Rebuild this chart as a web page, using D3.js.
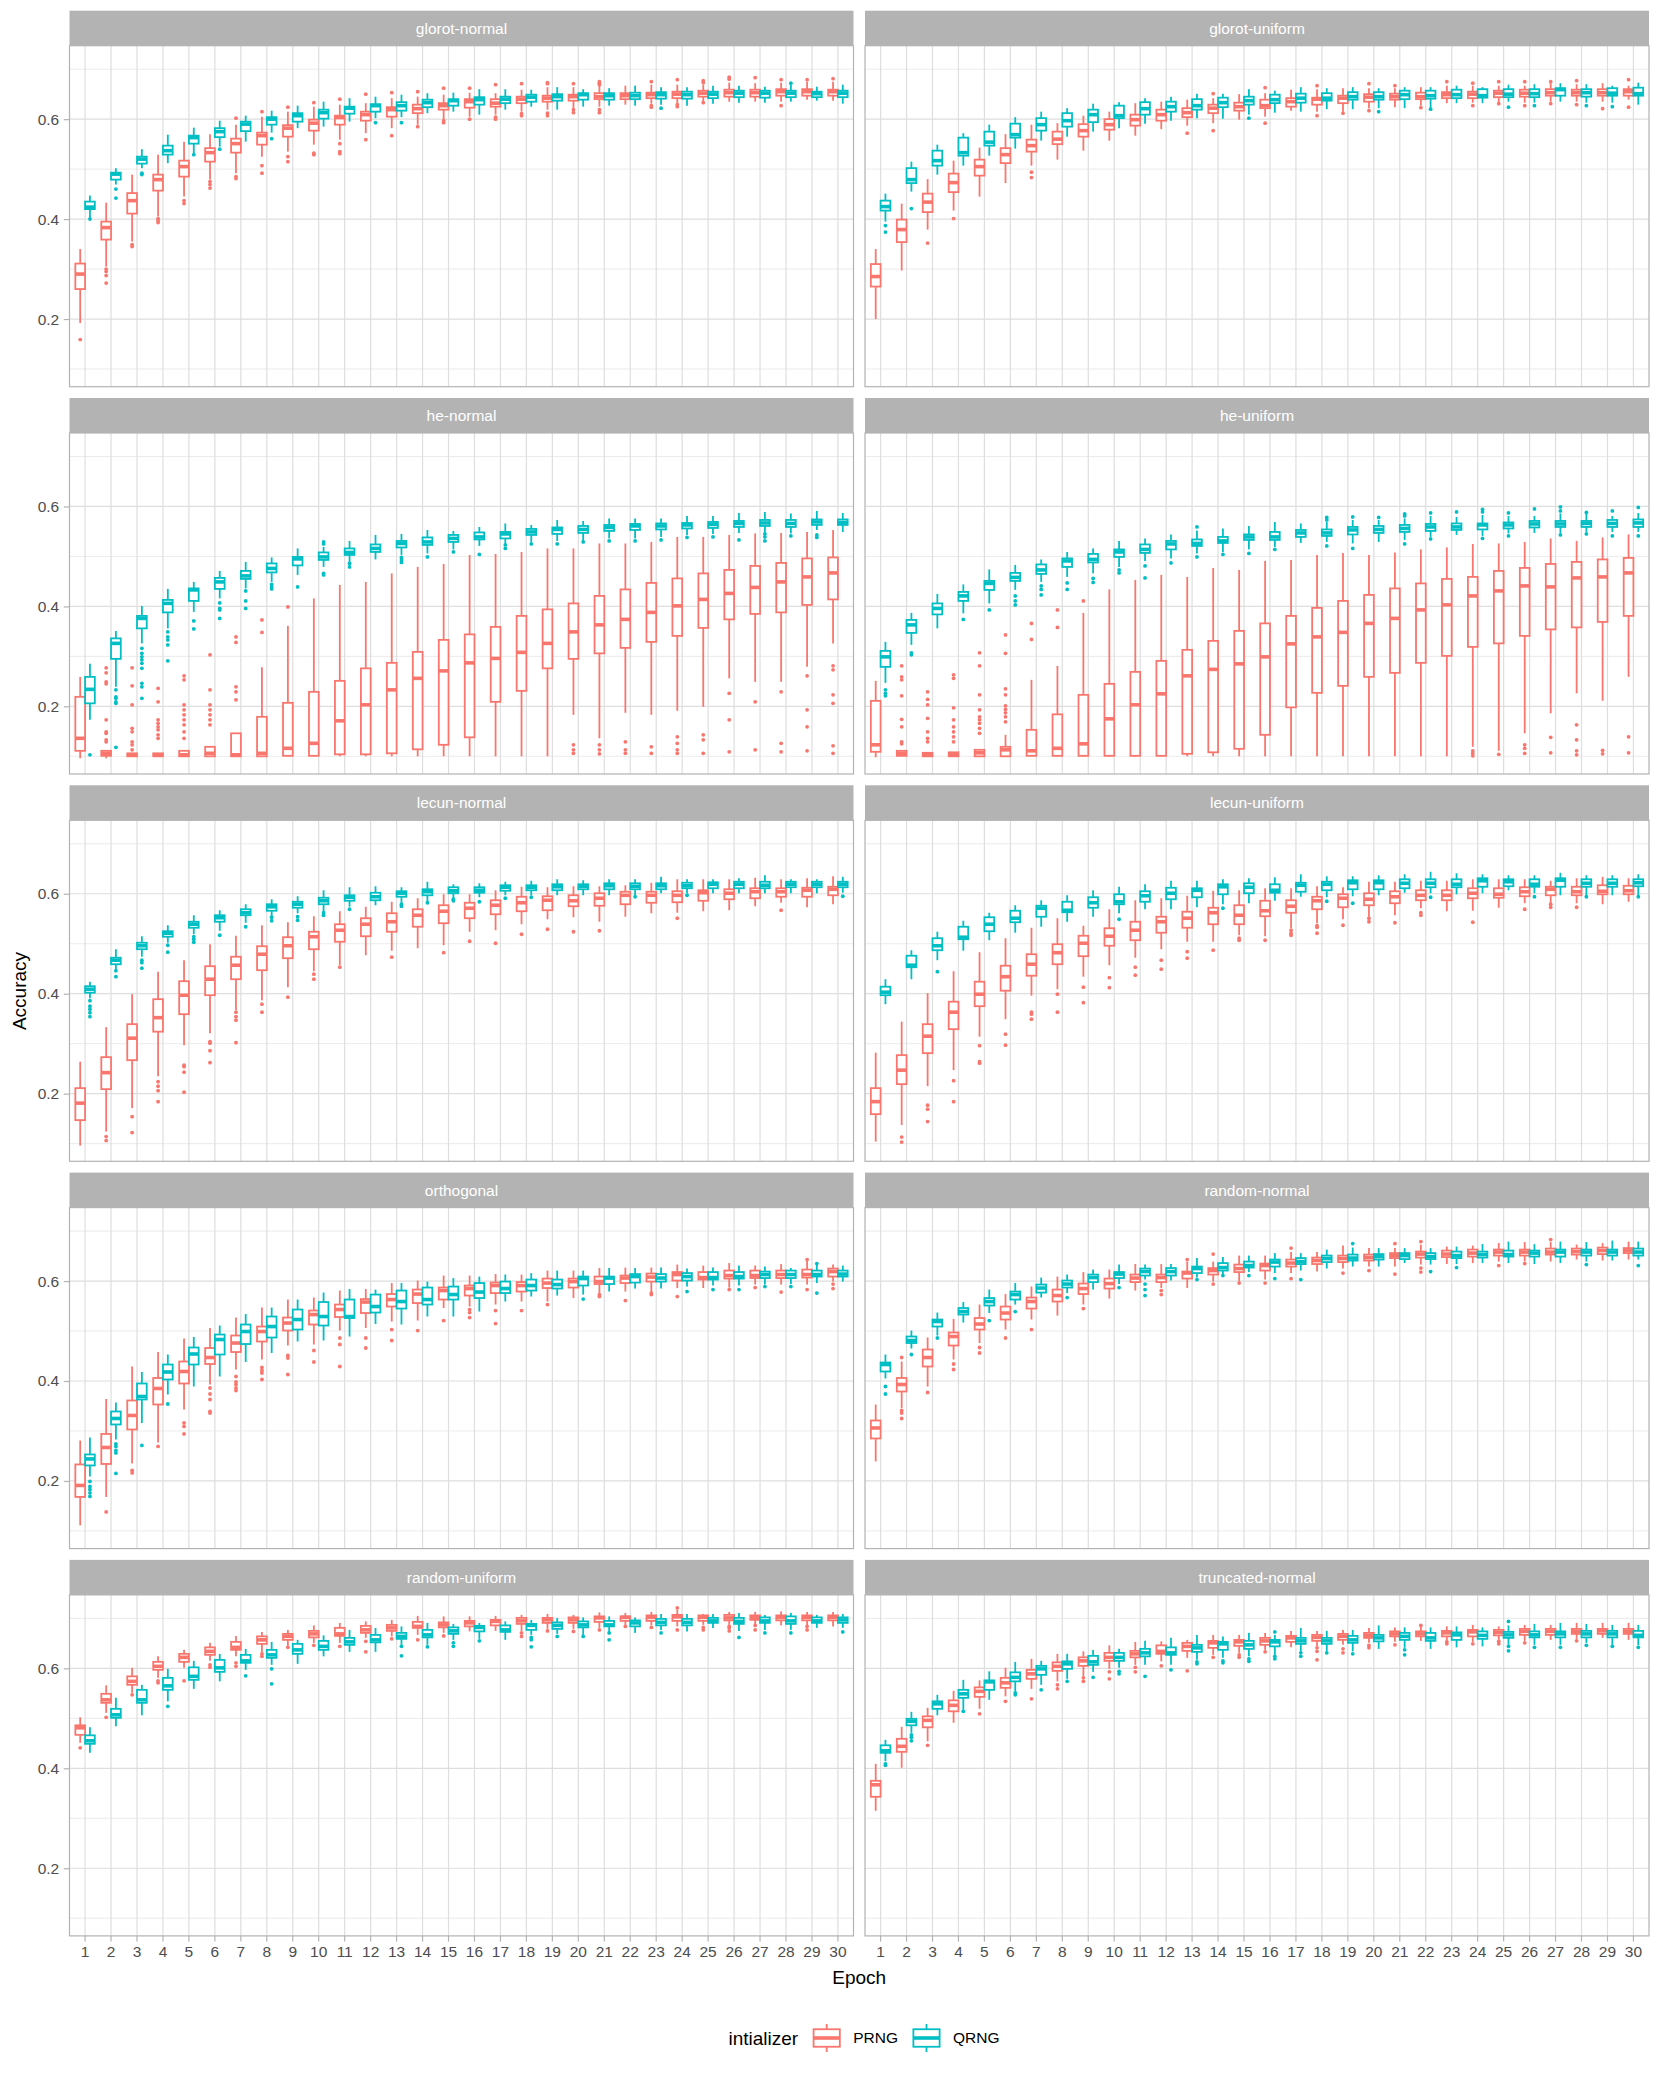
<!DOCTYPE html>
<html lang="en">
<head>
<meta charset="UTF-8">
<title>accuracy by epoch</title>
<script src="https://cdn.jsdelivr.net/npm/d3@7/dist/d3.min.js"></script>
<style>
  body { margin: 0; background: #fff; }
  text { font-family: "Liberation Sans", Arial, Helvetica, sans-serif; }
</style>
</head>
<body>
<script>
// categories / ticks
const facetNames = ["glorot-normal", "glorot-uniform", "he-normal", "he-uniform", "lecun-normal",
  "lecun-uniform", "orthogonal", "random-normal", "random-uniform", "truncated-normal"];
const epochs = [1,2,3,4,5,6,7,8,9,10,11,12,13,14,15,16,17,18,19,20,21,22,23,24,25,26,27,28,29,30];
const seriesNames = ["PRNG", "QRNG"];
const yTicks = [0.2, 0.4, 0.6];
const yMinorTicks = [0.1, 0.3, 0.5, 0.7];

// each box: [lower whisker, q1, median, q3, upper whisker], epochs 1..30
const glorotNormalPRNG = [[0.192,0.26,0.29,0.311,0.34],[0.305,0.359,0.383,0.395,0.433],[0.355,0.411,0.437,0.452,0.489],[0.405,0.457,0.479,0.489,0.529],[0.445,0.485,0.505,0.517,0.555],[0.479,0.515,0.533,0.542,0.57],[0.492,0.533,0.551,0.561,0.589],[0.525,0.549,0.567,0.573,0.605],[0.535,0.565,0.582,0.588,0.615],[0.549,0.577,0.592,0.599,0.625],[0.559,0.589,0.603,0.607,0.629],[0.572,0.597,0.609,0.615,0.632],[0.582,0.605,0.619,0.624,0.642],[0.589,0.612,0.621,0.629,0.645],[0.599,0.619,0.627,0.632,0.649],[0.605,0.623,0.635,0.64,0.653],[0.609,0.625,0.632,0.64,0.652],[0.615,0.632,0.64,0.645,0.659],[0.619,0.635,0.642,0.647,0.664],[0.622,0.637,0.645,0.649,0.664],[0.625,0.64,0.645,0.652,0.667],[0.629,0.64,0.647,0.652,0.667],[0.631,0.642,0.649,0.653,0.669],[0.631,0.642,0.65,0.655,0.669],[0.635,0.645,0.652,0.657,0.669],[0.635,0.645,0.653,0.659,0.673],[0.635,0.645,0.653,0.659,0.672],[0.635,0.647,0.655,0.66,0.673],[0.639,0.647,0.655,0.66,0.675],[0.637,0.647,0.655,0.659,0.675]];
const glorotNormalQRNG = [[0.402,0.42,0.424,0.435,0.447],[0.469,0.479,0.49,0.493,0.502],[0.502,0.511,0.52,0.525,0.54],[0.512,0.529,0.537,0.547,0.569],[0.531,0.551,0.563,0.567,0.583],[0.545,0.564,0.575,0.582,0.597],[0.555,0.576,0.59,0.595,0.607],[0.573,0.589,0.6,0.604,0.617],[0.582,0.595,0.607,0.612,0.627],[0.585,0.601,0.613,0.619,0.635],[0.595,0.611,0.622,0.625,0.642],[0.602,0.615,0.627,0.63,0.645],[0.604,0.617,0.627,0.634,0.649],[0.612,0.624,0.633,0.639,0.652],[0.615,0.627,0.637,0.64,0.653],[0.609,0.629,0.639,0.644,0.66],[0.619,0.632,0.64,0.645,0.66],[0.625,0.635,0.644,0.649,0.659],[0.619,0.637,0.645,0.65,0.664],[0.625,0.639,0.649,0.652,0.66],[0.627,0.639,0.647,0.652,0.662],[0.627,0.64,0.647,0.653,0.667],[0.629,0.641,0.649,0.654,0.664],[0.627,0.641,0.649,0.655,0.664],[0.631,0.642,0.65,0.655,0.667],[0.633,0.644,0.652,0.657,0.667],[0.633,0.643,0.652,0.657,0.665],[0.635,0.644,0.652,0.657,0.669],[0.637,0.644,0.651,0.655,0.665],[0.631,0.644,0.652,0.657,0.669]];
const glorotUniformPRNG = [[0.2,0.265,0.285,0.31,0.34],[0.297,0.354,0.379,0.399,0.431],[0.379,0.414,0.434,0.451,0.48],[0.417,0.454,0.473,0.491,0.517],[0.445,0.487,0.505,0.519,0.543],[0.472,0.512,0.529,0.542,0.57],[0.507,0.535,0.547,0.559,0.589],[0.519,0.55,0.56,0.575,0.592],[0.537,0.565,0.577,0.59,0.607],[0.557,0.579,0.589,0.6,0.615],[0.567,0.587,0.599,0.609,0.632],[0.58,0.597,0.609,0.619,0.635],[0.587,0.604,0.613,0.622,0.639],[0.592,0.612,0.622,0.629,0.642],[0.599,0.617,0.625,0.633,0.65],[0.605,0.622,0.627,0.639,0.652],[0.617,0.625,0.635,0.642,0.659],[0.615,0.629,0.64,0.643,0.66],[0.615,0.632,0.642,0.647,0.662],[0.622,0.635,0.644,0.65,0.662],[0.624,0.639,0.645,0.651,0.662],[0.627,0.64,0.645,0.653,0.664],[0.632,0.642,0.649,0.654,0.667],[0.633,0.642,0.65,0.655,0.667],[0.633,0.644,0.652,0.657,0.667],[0.633,0.645,0.652,0.659,0.667],[0.635,0.647,0.653,0.66,0.672],[0.635,0.647,0.653,0.659,0.67],[0.635,0.647,0.653,0.66,0.672],[0.639,0.647,0.655,0.66,0.667]];
const glorotUniformQRNG = [[0.395,0.417,0.425,0.437,0.451],[0.455,0.472,0.479,0.502,0.515],[0.489,0.507,0.517,0.537,0.549],[0.507,0.527,0.533,0.563,0.572],[0.527,0.547,0.554,0.575,0.589],[0.541,0.563,0.569,0.591,0.604],[0.557,0.577,0.589,0.602,0.615],[0.565,0.585,0.597,0.612,0.622],[0.575,0.594,0.609,0.619,0.631],[0.582,0.602,0.607,0.627,0.634],[0.591,0.609,0.621,0.634,0.642],[0.597,0.615,0.625,0.635,0.645],[0.602,0.619,0.627,0.64,0.651],[0.601,0.624,0.633,0.643,0.651],[0.609,0.629,0.637,0.645,0.66],[0.613,0.632,0.639,0.649,0.657],[0.615,0.633,0.642,0.651,0.664],[0.62,0.637,0.642,0.652,0.662],[0.62,0.639,0.645,0.654,0.664],[0.622,0.639,0.645,0.654,0.662],[0.622,0.64,0.649,0.657,0.664],[0.622,0.641,0.647,0.657,0.664],[0.632,0.642,0.649,0.659,0.667],[0.632,0.643,0.647,0.66,0.664],[0.635,0.644,0.65,0.66,0.669],[0.633,0.644,0.651,0.66,0.67],[0.635,0.647,0.659,0.662,0.672],[0.633,0.645,0.653,0.66,0.67],[0.633,0.647,0.652,0.662,0.667],[0.629,0.647,0.651,0.663,0.673]];
const heNormalPRNG = [[0.096,0.111,0.136,0.219,0.259],[0.096,0.101,0.106,0.111,0.111],[0.1,0.1,0.103,0.106,0.106],[0.1,0.1,0.103,0.106,0.106],[0.1,0.1,0.103,0.111,0.111],[0.1,0.1,0.106,0.119,0.119],[0.1,0.1,0.103,0.146,0.146],[0.1,0.1,0.106,0.179,0.278],[0.1,0.101,0.116,0.207,0.361],[0.1,0.101,0.126,0.229,0.416],[0.1,0.104,0.171,0.251,0.443],[0.1,0.104,0.203,0.276,0.449],[0.1,0.106,0.233,0.287,0.466],[0.1,0.114,0.256,0.309,0.479],[0.1,0.123,0.271,0.333,0.485],[0.1,0.138,0.287,0.344,0.503],[0.1,0.209,0.296,0.359,0.505],[0.1,0.231,0.308,0.381,0.509],[0.1,0.276,0.326,0.394,0.516],[0.183,0.295,0.349,0.406,0.516],[0.136,0.306,0.363,0.421,0.526],[0.187,0.317,0.374,0.434,0.526],[0.183,0.329,0.388,0.447,0.529],[0.191,0.341,0.401,0.456,0.539],[0.199,0.357,0.414,0.466,0.539],[0.256,0.374,0.426,0.473,0.543],[0.249,0.385,0.438,0.481,0.546],[0.249,0.388,0.449,0.487,0.547],[0.279,0.403,0.459,0.496,0.549],[0.326,0.414,0.467,0.498,0.553]];
const heNormalQRNG = [[0.173,0.206,0.234,0.259,0.285],[0.239,0.295,0.326,0.336,0.351],[0.326,0.356,0.376,0.381,0.401],[0.356,0.388,0.406,0.413,0.435],[0.389,0.411,0.433,0.436,0.449],[0.416,0.435,0.449,0.457,0.471],[0.436,0.455,0.461,0.471,0.489],[0.449,0.468,0.476,0.486,0.498],[0.463,0.482,0.495,0.499,0.516],[0.479,0.493,0.499,0.508,0.519],[0.487,0.503,0.508,0.516,0.531],[0.494,0.509,0.516,0.524,0.543],[0.503,0.518,0.526,0.531,0.545],[0.506,0.523,0.529,0.538,0.553],[0.514,0.529,0.536,0.543,0.551],[0.521,0.534,0.539,0.548,0.559],[0.526,0.536,0.545,0.549,0.566],[0.529,0.543,0.549,0.555,0.563],[0.531,0.545,0.554,0.558,0.573],[0.531,0.547,0.554,0.561,0.571],[0.536,0.551,0.558,0.563,0.576],[0.536,0.553,0.561,0.565,0.576],[0.539,0.554,0.561,0.566,0.576],[0.543,0.556,0.563,0.567,0.581],[0.545,0.557,0.564,0.569,0.581],[0.547,0.559,0.566,0.571,0.587],[0.547,0.561,0.567,0.573,0.589],[0.546,0.559,0.566,0.573,0.586],[0.553,0.563,0.569,0.574,0.591],[0.549,0.563,0.568,0.574,0.587]];
const heUniformPRNG = [[0.098,0.109,0.123,0.211,0.251],[0.1,0.101,0.106,0.111,0.111],[0.1,0.1,0.103,0.107,0.107],[0.1,0.1,0.103,0.108,0.108],[0.1,0.1,0.107,0.113,0.113],[0.1,0.1,0.113,0.119,0.143],[0.1,0.101,0.111,0.153,0.253],[0.1,0.101,0.116,0.184,0.281],[0.1,0.101,0.125,0.223,0.387],[0.1,0.101,0.175,0.245,0.434],[0.1,0.101,0.203,0.269,0.453],[0.1,0.101,0.225,0.291,0.463],[0.1,0.105,0.261,0.313,0.459],[0.1,0.108,0.274,0.331,0.477],[0.1,0.115,0.285,0.351,0.473],[0.1,0.143,0.299,0.366,0.491],[0.1,0.198,0.325,0.381,0.493],[0.1,0.227,0.339,0.397,0.503],[0.1,0.241,0.348,0.411,0.507],[0.1,0.259,0.366,0.423,0.503],[0.1,0.267,0.376,0.436,0.508],[0.1,0.287,0.393,0.446,0.514],[0.1,0.301,0.403,0.455,0.518],[0.119,0.319,0.421,0.459,0.525],[0.111,0.326,0.431,0.471,0.526],[0.146,0.341,0.441,0.477,0.529],[0.186,0.354,0.439,0.485,0.536],[0.226,0.358,0.457,0.489,0.531],[0.211,0.369,0.459,0.494,0.538],[0.259,0.381,0.467,0.497,0.544]];
const heUniformQRNG = [[0.247,0.279,0.299,0.311,0.329],[0.323,0.347,0.363,0.373,0.387],[0.356,0.384,0.396,0.406,0.425],[0.386,0.411,0.421,0.429,0.444],[0.406,0.433,0.446,0.451,0.474],[0.433,0.451,0.458,0.467,0.483],[0.449,0.465,0.473,0.484,0.494],[0.459,0.479,0.491,0.496,0.509],[0.466,0.488,0.494,0.505,0.516],[0.479,0.499,0.509,0.514,0.531],[0.491,0.507,0.514,0.524,0.536],[0.496,0.514,0.525,0.531,0.544],[0.506,0.521,0.526,0.534,0.552],[0.509,0.527,0.531,0.539,0.556],[0.514,0.533,0.539,0.544,0.561],[0.519,0.533,0.539,0.549,0.569],[0.527,0.539,0.547,0.553,0.566],[0.529,0.541,0.547,0.554,0.569],[0.526,0.544,0.553,0.559,0.573],[0.529,0.547,0.554,0.561,0.573],[0.533,0.549,0.556,0.563,0.576],[0.539,0.551,0.559,0.565,0.581],[0.543,0.553,0.559,0.566,0.579],[0.541,0.554,0.563,0.566,0.583],[0.546,0.556,0.563,0.568,0.581],[0.547,0.558,0.565,0.571,0.581],[0.547,0.559,0.565,0.571,0.586],[0.549,0.559,0.566,0.571,0.585],[0.549,0.559,0.566,0.573,0.581],[0.549,0.559,0.567,0.574,0.587]];
const lecunNormalPRNG = [[0.096,0.147,0.181,0.211,0.264],[0.124,0.209,0.242,0.273,0.333],[0.171,0.267,0.311,0.339,0.399],[0.235,0.324,0.352,0.389,0.444],[0.297,0.359,0.397,0.425,0.467],[0.321,0.397,0.429,0.455,0.499],[0.367,0.429,0.457,0.474,0.516],[0.387,0.447,0.479,0.495,0.537],[0.413,0.471,0.496,0.513,0.543],[0.445,0.489,0.514,0.524,0.555],[0.457,0.504,0.527,0.539,0.565],[0.477,0.515,0.539,0.551,0.574],[0.486,0.524,0.544,0.561,0.584],[0.491,0.534,0.557,0.569,0.591],[0.497,0.541,0.565,0.577,0.599],[0.524,0.551,0.571,0.582,0.599],[0.527,0.559,0.577,0.587,0.607],[0.539,0.565,0.582,0.594,0.614],[0.549,0.567,0.587,0.595,0.613],[0.553,0.575,0.586,0.597,0.615],[0.544,0.576,0.591,0.601,0.615],[0.554,0.579,0.597,0.604,0.617],[0.561,0.582,0.597,0.604,0.622],[0.562,0.583,0.597,0.605,0.629],[0.565,0.586,0.602,0.607,0.629],[0.567,0.589,0.601,0.609,0.629],[0.575,0.591,0.604,0.611,0.632],[0.582,0.594,0.604,0.611,0.629],[0.573,0.594,0.607,0.612,0.631],[0.579,0.597,0.609,0.614,0.635]];
const lecunNormalQRNG = [[0.391,0.402,0.409,0.415,0.424],[0.449,0.459,0.467,0.472,0.489],[0.474,0.489,0.496,0.502,0.515],[0.502,0.514,0.521,0.525,0.537],[0.519,0.532,0.539,0.544,0.557],[0.526,0.544,0.552,0.557,0.567],[0.542,0.557,0.562,0.569,0.579],[0.554,0.566,0.574,0.579,0.589],[0.561,0.572,0.579,0.584,0.595],[0.564,0.579,0.586,0.592,0.607],[0.574,0.586,0.593,0.597,0.613],[0.577,0.587,0.594,0.602,0.615],[0.582,0.594,0.601,0.605,0.613],[0.584,0.597,0.604,0.609,0.624],[0.591,0.601,0.606,0.613,0.619],[0.593,0.602,0.607,0.613,0.621],[0.597,0.606,0.613,0.617,0.624],[0.597,0.607,0.613,0.617,0.626],[0.597,0.607,0.614,0.619,0.629],[0.597,0.609,0.615,0.619,0.627],[0.597,0.609,0.616,0.621,0.629],[0.597,0.609,0.615,0.621,0.629],[0.601,0.609,0.616,0.621,0.634],[0.601,0.611,0.616,0.622,0.629],[0.601,0.611,0.619,0.623,0.629],[0.601,0.611,0.619,0.624,0.631],[0.601,0.611,0.617,0.624,0.637],[0.601,0.613,0.619,0.624,0.629],[0.601,0.613,0.619,0.624,0.629],[0.602,0.613,0.619,0.624,0.634]];
const lecunUniformPRNG = [[0.104,0.159,0.184,0.211,0.282],[0.137,0.219,0.247,0.277,0.344],[0.215,0.281,0.315,0.339,0.401],[0.247,0.329,0.363,0.384,0.445],[0.314,0.375,0.399,0.424,0.483],[0.349,0.406,0.434,0.456,0.511],[0.396,0.436,0.459,0.479,0.532],[0.409,0.459,0.482,0.499,0.551],[0.434,0.475,0.501,0.516,0.536],[0.457,0.496,0.515,0.531,0.569],[0.472,0.507,0.527,0.544,0.587],[0.489,0.522,0.544,0.554,0.591],[0.504,0.532,0.551,0.564,0.596],[0.504,0.539,0.562,0.572,0.606],[0.517,0.539,0.557,0.577,0.607],[0.515,0.555,0.566,0.586,0.611],[0.531,0.562,0.575,0.587,0.611],[0.541,0.569,0.586,0.594,0.615],[0.549,0.573,0.591,0.599,0.613],[0.554,0.577,0.589,0.601,0.624],[0.557,0.581,0.594,0.605,0.624],[0.571,0.587,0.597,0.607,0.626],[0.565,0.587,0.597,0.607,0.626],[0.566,0.591,0.601,0.611,0.629],[0.572,0.592,0.599,0.611,0.629],[0.581,0.595,0.604,0.613,0.629],[0.581,0.597,0.609,0.614,0.626],[0.581,0.597,0.604,0.614,0.631],[0.579,0.599,0.605,0.617,0.634],[0.584,0.599,0.606,0.616,0.631]];
const lecunUniformQRNG = [[0.379,0.397,0.403,0.414,0.429],[0.429,0.453,0.457,0.476,0.487],[0.467,0.487,0.496,0.511,0.524],[0.486,0.509,0.513,0.534,0.546],[0.507,0.525,0.539,0.553,0.562],[0.522,0.543,0.551,0.566,0.577],[0.534,0.554,0.571,0.576,0.587],[0.544,0.563,0.567,0.584,0.597],[0.554,0.572,0.582,0.593,0.607],[0.561,0.579,0.584,0.599,0.614],[0.569,0.584,0.596,0.605,0.619],[0.569,0.589,0.601,0.612,0.626],[0.573,0.593,0.607,0.611,0.626],[0.579,0.599,0.614,0.619,0.629],[0.581,0.601,0.613,0.621,0.631],[0.586,0.602,0.607,0.619,0.633],[0.594,0.604,0.617,0.622,0.639],[0.593,0.607,0.619,0.624,0.635],[0.595,0.609,0.622,0.627,0.635],[0.597,0.609,0.622,0.627,0.637],[0.602,0.611,0.621,0.629,0.639],[0.601,0.613,0.621,0.629,0.644],[0.599,0.613,0.619,0.629,0.641],[0.601,0.614,0.626,0.631,0.639],[0.607,0.615,0.624,0.629,0.637],[0.601,0.614,0.619,0.629,0.637],[0.597,0.614,0.627,0.631,0.642],[0.597,0.614,0.621,0.629,0.637],[0.597,0.614,0.621,0.629,0.637],[0.597,0.615,0.622,0.629,0.639]];
const orthogonalPRNG = [[0.111,0.168,0.191,0.233,0.281],[0.168,0.234,0.267,0.294,0.364],[0.235,0.303,0.331,0.361,0.429],[0.277,0.353,0.385,0.406,0.458],[0.343,0.395,0.419,0.439,0.485],[0.393,0.434,0.447,0.466,0.506],[0.423,0.458,0.476,0.491,0.527],[0.443,0.479,0.499,0.509,0.547],[0.471,0.501,0.516,0.527,0.563],[0.473,0.513,0.533,0.541,0.567],[0.501,0.528,0.543,0.553,0.581],[0.506,0.536,0.558,0.564,0.584],[0.519,0.549,0.563,0.574,0.596],[0.521,0.556,0.574,0.583,0.601],[0.546,0.563,0.581,0.587,0.611],[0.549,0.571,0.585,0.591,0.611],[0.553,0.576,0.591,0.597,0.614],[0.559,0.579,0.591,0.598,0.613],[0.559,0.586,0.596,0.605,0.621],[0.566,0.587,0.599,0.605,0.621],[0.576,0.594,0.599,0.609,0.626],[0.579,0.596,0.606,0.611,0.627],[0.578,0.599,0.608,0.615,0.627],[0.586,0.601,0.613,0.618,0.633],[0.586,0.603,0.607,0.618,0.631],[0.587,0.605,0.611,0.621,0.636],[0.593,0.606,0.611,0.621,0.631],[0.593,0.606,0.613,0.621,0.634],[0.593,0.607,0.613,0.623,0.641],[0.599,0.609,0.619,0.625,0.633]];
const orthogonalQRNG = [[0.209,0.231,0.244,0.253,0.287],[0.283,0.313,0.325,0.339,0.357],[0.316,0.363,0.369,0.395,0.418],[0.373,0.403,0.418,0.433,0.453],[0.389,0.433,0.454,0.467,0.488],[0.409,0.453,0.483,0.493,0.511],[0.438,0.474,0.499,0.513,0.534],[0.456,0.487,0.509,0.529,0.547],[0.479,0.503,0.523,0.543,0.563],[0.481,0.511,0.529,0.558,0.577],[0.489,0.526,0.529,0.563,0.584],[0.514,0.537,0.549,0.573,0.583],[0.513,0.545,0.559,0.581,0.596],[0.529,0.553,0.563,0.587,0.599],[0.529,0.563,0.573,0.589,0.606],[0.539,0.566,0.578,0.596,0.609],[0.559,0.576,0.585,0.599,0.613],[0.569,0.581,0.591,0.603,0.616],[0.571,0.585,0.593,0.603,0.621],[0.573,0.591,0.605,0.609,0.621],[0.579,0.594,0.606,0.609,0.626],[0.585,0.597,0.609,0.614,0.626],[0.585,0.599,0.606,0.614,0.627],[0.589,0.601,0.609,0.616,0.625],[0.591,0.603,0.607,0.618,0.627],[0.591,0.605,0.609,0.618,0.631],[0.593,0.606,0.613,0.619,0.629],[0.594,0.606,0.613,0.621,0.626],[0.596,0.609,0.613,0.621,0.633],[0.599,0.609,0.614,0.621,0.631]];
const randomNormalPRNG = [[0.239,0.285,0.306,0.321,0.353],[0.346,0.379,0.393,0.406,0.439],[0.389,0.429,0.447,0.463,0.487],[0.443,0.471,0.489,0.497,0.524],[0.476,0.503,0.514,0.526,0.553],[0.503,0.523,0.536,0.549,0.574],[0.523,0.545,0.559,0.567,0.589],[0.531,0.559,0.571,0.583,0.609],[0.553,0.574,0.585,0.595,0.618],[0.565,0.585,0.595,0.605,0.623],[0.581,0.598,0.606,0.613,0.634],[0.586,0.598,0.607,0.613,0.634],[0.586,0.605,0.616,0.619,0.639],[0.599,0.613,0.621,0.626,0.639],[0.599,0.618,0.625,0.633,0.651],[0.603,0.621,0.631,0.635,0.651],[0.616,0.629,0.636,0.643,0.658],[0.619,0.634,0.641,0.647,0.658],[0.625,0.638,0.645,0.651,0.671],[0.629,0.641,0.647,0.653,0.666],[0.629,0.646,0.651,0.656,0.666],[0.633,0.647,0.654,0.659,0.673],[0.634,0.648,0.654,0.661,0.669],[0.636,0.649,0.656,0.663,0.671],[0.639,0.651,0.658,0.663,0.676],[0.639,0.651,0.658,0.663,0.678],[0.639,0.653,0.658,0.665,0.678],[0.643,0.653,0.659,0.665,0.673],[0.641,0.654,0.661,0.667,0.676],[0.643,0.656,0.661,0.666,0.679]];
const randomNormalQRNG = [[0.405,0.419,0.433,0.437,0.453],[0.465,0.476,0.481,0.489,0.501],[0.491,0.509,0.519,0.523,0.537],[0.517,0.533,0.539,0.546,0.558],[0.536,0.551,0.559,0.566,0.583],[0.553,0.563,0.573,0.579,0.596],[0.567,0.577,0.586,0.593,0.607],[0.576,0.587,0.594,0.601,0.613],[0.583,0.598,0.607,0.613,0.623],[0.594,0.606,0.614,0.618,0.633],[0.603,0.611,0.619,0.625,0.633],[0.601,0.611,0.619,0.626,0.634],[0.607,0.616,0.625,0.629,0.646],[0.609,0.621,0.627,0.636,0.648],[0.618,0.627,0.631,0.639,0.651],[0.616,0.629,0.638,0.643,0.656],[0.621,0.634,0.639,0.646,0.656],[0.625,0.638,0.645,0.651,0.663],[0.629,0.641,0.646,0.653,0.667],[0.629,0.643,0.649,0.654,0.666],[0.636,0.644,0.651,0.656,0.666],[0.633,0.644,0.649,0.656,0.666],[0.634,0.646,0.651,0.659,0.669],[0.636,0.647,0.653,0.659,0.674],[0.636,0.649,0.653,0.661,0.679],[0.634,0.649,0.656,0.661,0.674],[0.636,0.649,0.658,0.663,0.679],[0.639,0.651,0.658,0.663,0.678],[0.641,0.651,0.658,0.663,0.681],[0.643,0.651,0.658,0.665,0.679]];
const randomUniformPRNG = [[0.451,0.467,0.481,0.486,0.502],[0.511,0.531,0.537,0.549,0.566],[0.551,0.567,0.574,0.584,0.601],[0.581,0.597,0.604,0.613,0.624],[0.601,0.613,0.622,0.629,0.637],[0.615,0.627,0.634,0.642,0.651],[0.624,0.637,0.642,0.653,0.665],[0.631,0.649,0.657,0.664,0.673],[0.644,0.657,0.664,0.669,0.677],[0.651,0.662,0.669,0.675,0.686],[0.651,0.665,0.669,0.681,0.691],[0.661,0.671,0.677,0.685,0.694],[0.664,0.675,0.681,0.687,0.697],[0.667,0.681,0.684,0.693,0.705],[0.671,0.682,0.687,0.692,0.704],[0.674,0.684,0.691,0.695,0.704],[0.675,0.686,0.694,0.697,0.705],[0.675,0.689,0.695,0.701,0.707],[0.679,0.691,0.697,0.701,0.709],[0.679,0.691,0.697,0.702,0.707],[0.681,0.693,0.701,0.704,0.712],[0.686,0.695,0.702,0.704,0.711],[0.686,0.695,0.702,0.706,0.713],[0.684,0.695,0.703,0.707,0.717],[0.687,0.695,0.702,0.706,0.709],[0.687,0.696,0.701,0.707,0.713],[0.687,0.697,0.702,0.706,0.713],[0.686,0.696,0.702,0.706,0.714],[0.687,0.696,0.702,0.706,0.713],[0.684,0.696,0.702,0.706,0.713]];
const randomUniformQRNG = [[0.431,0.449,0.455,0.466,0.482],[0.484,0.501,0.507,0.519,0.541],[0.506,0.531,0.537,0.557,0.567],[0.534,0.557,0.565,0.581,0.599],[0.559,0.577,0.584,0.602,0.615],[0.574,0.593,0.601,0.617,0.629],[0.597,0.611,0.615,0.627,0.639],[0.607,0.621,0.627,0.637,0.653],[0.609,0.629,0.637,0.649,0.657],[0.624,0.637,0.644,0.655,0.666],[0.633,0.647,0.653,0.661,0.677],[0.633,0.652,0.657,0.667,0.681],[0.647,0.659,0.664,0.671,0.684],[0.647,0.662,0.667,0.677,0.691],[0.657,0.669,0.675,0.682,0.689],[0.659,0.674,0.682,0.685,0.691],[0.657,0.673,0.677,0.686,0.694],[0.667,0.677,0.686,0.689,0.697],[0.669,0.679,0.686,0.692,0.701],[0.667,0.682,0.687,0.694,0.702],[0.673,0.684,0.687,0.695,0.704],[0.671,0.684,0.691,0.696,0.702],[0.677,0.686,0.692,0.699,0.709],[0.674,0.686,0.692,0.699,0.709],[0.681,0.691,0.695,0.701,0.709],[0.675,0.689,0.694,0.701,0.711],[0.677,0.691,0.695,0.702,0.707],[0.677,0.689,0.695,0.704,0.711],[0.681,0.691,0.695,0.702,0.707],[0.681,0.691,0.697,0.702,0.709]];
const truncatedNormalPRNG = [[0.315,0.343,0.367,0.375,0.409],[0.401,0.433,0.444,0.459,0.483],[0.454,0.482,0.496,0.504,0.521],[0.491,0.514,0.526,0.536,0.555],[0.519,0.543,0.554,0.562,0.576],[0.544,0.561,0.571,0.581,0.601],[0.559,0.579,0.589,0.597,0.619],[0.574,0.595,0.604,0.612,0.629],[0.584,0.605,0.615,0.622,0.634],[0.599,0.615,0.622,0.631,0.646],[0.607,0.622,0.629,0.635,0.653],[0.614,0.629,0.634,0.646,0.654],[0.621,0.635,0.644,0.651,0.657],[0.627,0.641,0.651,0.655,0.667],[0.631,0.645,0.653,0.657,0.667],[0.637,0.647,0.655,0.661,0.671],[0.642,0.653,0.661,0.665,0.675],[0.644,0.655,0.662,0.667,0.675],[0.647,0.657,0.664,0.669,0.677],[0.651,0.661,0.666,0.671,0.681],[0.653,0.664,0.669,0.674,0.682],[0.655,0.664,0.669,0.674,0.683],[0.654,0.664,0.671,0.675,0.684],[0.653,0.664,0.673,0.677,0.687],[0.657,0.666,0.672,0.677,0.684],[0.655,0.667,0.674,0.679,0.687],[0.657,0.667,0.674,0.679,0.687],[0.659,0.669,0.674,0.679,0.691],[0.661,0.669,0.675,0.679,0.691],[0.657,0.669,0.674,0.679,0.691]];
const truncatedNormalQRNG = [[0.414,0.431,0.435,0.446,0.457],[0.471,0.486,0.494,0.499,0.513],[0.506,0.519,0.529,0.534,0.547],[0.517,0.541,0.549,0.557,0.577],[0.537,0.557,0.573,0.576,0.594],[0.554,0.574,0.582,0.592,0.613],[0.567,0.587,0.599,0.605,0.615],[0.579,0.599,0.609,0.614,0.629],[0.593,0.607,0.613,0.625,0.637],[0.601,0.615,0.622,0.631,0.639],[0.607,0.624,0.631,0.639,0.655],[0.607,0.627,0.631,0.642,0.661],[0.617,0.633,0.641,0.647,0.667],[0.621,0.637,0.649,0.653,0.664],[0.624,0.639,0.647,0.655,0.671],[0.627,0.644,0.653,0.657,0.667],[0.634,0.649,0.655,0.661,0.681],[0.634,0.649,0.655,0.661,0.675],[0.634,0.651,0.657,0.665,0.677],[0.639,0.654,0.661,0.667,0.686],[0.641,0.657,0.664,0.671,0.682],[0.639,0.655,0.661,0.671,0.682],[0.642,0.657,0.667,0.672,0.684],[0.644,0.659,0.666,0.674,0.682],[0.647,0.661,0.667,0.673,0.686],[0.647,0.662,0.667,0.674,0.689],[0.647,0.662,0.669,0.674,0.691],[0.651,0.662,0.669,0.675,0.689],[0.647,0.662,0.669,0.675,0.687],[0.646,0.662,0.666,0.675,0.687]];

// outliers: [epoch, value, value, ...]
const glorotNormalPRNGOut = [[1,0.159],[2,0.3,0.295,0.287,0.272],[3,0.349,0.345],[4,0.401,0.397,0.393],[5,0.437,0.431],[6,0.475,0.469,0.462],[7,0.602,0.485,0.481],[8,0.615,0.507,0.492],[9,0.624,0.525,0.515],[10,0.633,0.532,0.529],[11,0.64,0.551,0.535,0.531],[12,0.65,0.559],[13,0.653,0.567],[14,0.655,0.585],[15,0.662,0.597,0.593],[16,0.662,0.6],[17,0.669,0.604,0.6],[18,0.671,0.611,0.607],[19,0.673,0.671,0.612,0.607],[20,0.671,0.619,0.613],[21,0.675,0.672,0.669,0.619,0.613],[23,0.675,0.627,0.624],[24,0.679,0.629,0.625],[25,0.677,0.673,0.633],[26,0.684,0.68],[27,0.683],[28,0.679,0.627],[29,0.679],[30,0.681]];
const glorotNormalQRNGOut = [[1,0.4],[2,0.46,0.442],[3,0.492,0.489],[5,0.529],[6,0.54],[8,0.561],[12,0.593],[13,0.593],[23,0.622],[28,0.672]];
const glorotUniformPRNGOut = [[3,0.352],[4,0.401],[7,0.494,0.483],[13,0.572],[14,0.651,0.577],[16,0.663,0.592],[18,0.667,0.607],[19,0.612],[20,0.671,0.617],[21,0.667],[22,0.623],[23,0.675],[24,0.672,0.627],[25,0.675,0.631],[26,0.675,0.627],[27,0.675,0.631],[28,0.677,0.629],[29,0.621],[30,0.679,0.624]];
const glorotUniformQRNGOut = [[1,0.387,0.374],[2,0.421],[15,0.602],[20,0.615],[22,0.62],[25,0.624],[26,0.627],[28,0.627],[29,0.625]];
const heNormalPRNGOut = [[2,0.277,0.267,0.249,0.245,0.173,0.149,0.146,0.133,0.129],[3,0.277,0.241,0.203,0.156,0.149,0.129,0.123,0.113],[4,0.236,0.209,0.173,0.166,0.159,0.153,0.143,0.136],[5,0.261,0.253,0.203,0.193,0.183,0.173,0.163,0.149,0.136],[6,0.303,0.233,0.203,0.193,0.183,0.173,0.163],[7,0.339,0.328,0.239,0.229,0.213],[8,0.373,0.348],[9,0.399],[20,0.123,0.113,0.106],[21,0.123,0.113,0.105],[22,0.129,0.113,0.106],[23,0.119,0.106],[24,0.139,0.126,0.113,0.106],[25,0.143,0.133,0.106],[26,0.226,0.173,0.109],[27,0.209,0.113],[28,0.229,0.126,0.109],[29,0.261,0.193,0.159,0.111],[30,0.281,0.273,0.223,0.206,0.121,0.106]];
const heNormalQRNGOut = [[1,0.103],[2,0.233,0.219,0.216,0.209,0.206,0.118],[3,0.316,0.306,0.299,0.293,0.286,0.276,0.246,0.239,0.216],[4,0.349,0.339,0.333,0.323,0.291],[5,0.371,0.355],[6,0.407,0.396,0.393,0.376],[7,0.431,0.411,0.396],[8,0.444,0.439,0.435],[9,0.439],[10,0.529,0.525,0.466,0.463],[11,0.486,0.479],[13,0.498,0.493,0.488],[14,0.499],[15,0.509],[16,0.504],[17,0.523,0.516],[18,0.525],[19,0.525],[20,0.529],[21,0.531],[22,0.531],[23,0.533],[24,0.538],[25,0.539],[26,0.533],[27,0.545,0.539,0.531],[28,0.541],[29,0.543,0.538]];
const heUniformPRNGOut = [[2,0.281,0.259,0.253,0.221,0.174,0.159,0.129,0.125],[3,0.229,0.214,0.203,0.176,0.149,0.136,0.129],[4,0.263,0.256,0.197,0.173,0.159,0.149,0.139,0.129],[5,0.307,0.281,0.223,0.193,0.179,0.173,0.166,0.156,0.146],[6,0.343,0.306,0.235,0.223,0.201,0.194,0.187,0.179,0.169],[7,0.366,0.334],[8,0.393,0.358],[9,0.411],[24,0.111,0.106,0.101],[25,0.104],[26,0.123,0.116,0.106],[27,0.138,0.107],[28,0.163,0.133,0.111,0.103],[29,0.112,0.105],[30,0.139,0.107]];
const heUniformQRNGOut = [[1,0.233,0.226,0.221],[2,0.307,0.303],[4,0.374],[5,0.393],[6,0.421,0.411,0.403],[7,0.441,0.434,0.423],[8,0.447,0.434],[9,0.456,0.448],[10,0.473,0.467],[11,0.481,0.457],[12,0.487],[13,0.559,0.499],[14,0.504],[15,0.506],[16,0.514],[18,0.578,0.573,0.521],[19,0.579,0.516],[20,0.578],[21,0.585,0.581,0.525],[22,0.587,0.535],[23,0.589],[24,0.594,0.589,0.536],[25,0.587,0.541],[26,0.595],[27,0.599,0.591,0.543],[28,0.588,0.545],[29,0.591,0.541],[30,0.598,0.541]];
const lecunNormalPRNGOut = [[2,0.114,0.106],[3,0.154,0.122],[4,0.224,0.215,0.206,0.184],[5,0.257,0.254,0.243,0.203],[6,0.304,0.301,0.286,0.262],[7,0.363,0.354,0.347,0.302],[8,0.379,0.363],[9,0.393],[10,0.439,0.429],[11,0.453],[13,0.473],[15,0.482],[16,0.505],[17,0.501],[18,0.519],[19,0.529],[20,0.524],[21,0.526],[24,0.551],[28,0.567]];
const lecunNormalQRNGOut = [[1,0.386,0.375,0.369,0.362,0.354],[2,0.446,0.434],[3,0.467,0.462,0.451],[4,0.497,0.483],[5,0.514,0.509,0.503],[6,0.517],[7,0.534],[8,0.553,0.546],[9,0.554,0.547],[10,0.562,0.557],[11,0.569],[13,0.579,0.575],[14,0.582],[15,0.589,0.586],[16,0.584],[17,0.591],[18,0.593],[22,0.594],[24,0.597],[30,0.595]];
const lecunUniformPRNGOut = [[2,0.113,0.103],[3,0.177,0.169,0.144],[4,0.226,0.184],[5,0.296,0.264,0.261],[6,0.319,0.297],[7,0.363,0.359,0.349],[8,0.399,0.363],[9,0.413,0.382],[10,0.432,0.412],[11,0.453,0.437],[12,0.467,0.449],[13,0.484,0.471],[14,0.487],[15,0.511,0.507],[16,0.507],[17,0.527,0.521,0.517],[18,0.536,0.533,0.521],[19,0.537],[20,0.551,0.544],[21,0.542],[22,0.562,0.557],[24,0.543],[26,0.569],[27,0.579,0.573],[28,0.573]];
const lecunUniformQRNGOut = [[3,0.444],[10,0.549],[14,0.571],[18,0.585],[19,0.581],[22,0.593],[26,0.594],[28,0.594],[30,0.594]];
const orthogonalPRNGOut = [[2,0.138],[3,0.221,0.216],[4,0.269],[5,0.316,0.309,0.294],[6,0.386,0.374,0.363,0.339,0.336],[7,0.409,0.398,0.393,0.386,0.381],[8,0.427,0.421,0.416,0.403],[9,0.451,0.446,0.413],[10,0.461,0.438],[11,0.486,0.473,0.429],[12,0.486,0.466],[13,0.503,0.481],[14,0.501],[15,0.521],[16,0.543,0.537,0.527],[17,0.541,0.515],[18,0.541],[19,0.553],[21,0.573,0.569],[22,0.561],[23,0.576,0.573],[24,0.569],[26,0.583],[27,0.587],[28,0.578],[29,0.643,0.583],[30,0.594,0.585]];
const orthogonalQRNGOut = [[1,0.199,0.189,0.183,0.176,0.169],[2,0.274,0.269,0.261,0.256,0.215],[3,0.271],[4,0.354],[20,0.564],[24,0.579],[25,0.583],[26,0.583],[27,0.589],[28,0.589],[29,0.635,0.576]];
const randomNormalPRNGOut = [[2,0.447,0.341,0.336,0.325],[3,0.377],[4,0.434,0.423],[5,0.467,0.456],[6,0.486],[7,0.503],[9,0.545],[12,0.581,0.573],[13,0.643],[14,0.654,0.594],[15,0.596],[16,0.596],[17,0.666,0.605],[19,0.616],[20,0.621],[21,0.675,0.614],[22,0.679,0.626,0.618],[25,0.631],[26,0.635],[27,0.683]];
const randomNormalQRNGOut = [[1,0.389,0.374],[2,0.453],[3,0.486],[5,0.521],[6,0.539],[8,0.567],[10,0.587],[11,0.594,0.583,0.571],[13,0.603],[14,0.611],[15,0.611],[16,0.605],[17,0.603],[19,0.675],[22,0.619],[23,0.627],[28,0.633],[30,0.631]];
const randomUniformPRNGOut = [[1,0.441],[2,0.502],[3,0.547],[4,0.575,0.571],[5,0.575],[6,0.607,0.602],[7,0.611,0.604],[8,0.629,0.624],[9,0.642],[10,0.646],[11,0.644],[12,0.654,0.633],[13,0.659],[14,0.657],[15,0.665],[18,0.671,0.664],[19,0.675],[20,0.674],[21,0.677],[22,0.684],[23,0.682],[24,0.721,0.677],[25,0.682,0.677],[26,0.684,0.681,0.675],[27,0.686,0.677],[29,0.684,0.677]];
const randomUniformQRNGOut = [[4,0.524],[7,0.585],[8,0.599,0.569],[13,0.644,0.625],[14,0.643],[15,0.651,0.644],[16,0.655],[18,0.662,0.657,0.643],[19,0.664],[20,0.664],[21,0.671,0.657],[23,0.671],[26,0.662],[27,0.671],[28,0.671],[30,0.673]];
const truncatedNormalPRNGOut = [[3,0.446],[5,0.509],[6,0.534],[7,0.539],[8,0.567,0.559],[9,0.581,0.574],[10,0.593,0.579],[11,0.602,0.593],[12,0.605],[13,0.595],[14,0.622],[15,0.627,0.622],[16,0.633],[18,0.641,0.634,0.617],[19,0.639,0.631],[20,0.646,0.641],[21,0.647],[22,0.686],[23,0.653,0.649],[24,0.649],[25,0.654,0.649],[26,0.651],[28,0.655]];
const truncatedNormalQRNGOut = [[1,0.409,0.406],[2,0.467,0.462,0.455],[4,0.514],[6,0.551,0.547],[7,0.557],[8,0.574],[9,0.582],[10,0.594,0.589],[11,0.584],[12,0.597],[13,0.613,0.609],[14,0.615,0.611],[15,0.619,0.614],[16,0.673,0.624,0.619],[17,0.631,0.624],[18,0.631],[19,0.629],[21,0.637,0.627],[25,0.694,0.644,0.635],[26,0.642],[27,0.642],[28,0.646],[29,0.644],[30,0.642]];

const facetStats = [
  [glorotNormalPRNG, glorotNormalQRNG], [glorotUniformPRNG, glorotUniformQRNG],
  [heNormalPRNG, heNormalQRNG], [heUniformPRNG, heUniformQRNG],
  [lecunNormalPRNG, lecunNormalQRNG], [lecunUniformPRNG, lecunUniformQRNG],
  [orthogonalPRNG, orthogonalQRNG], [randomNormalPRNG, randomNormalQRNG],
  [randomUniformPRNG, randomUniformQRNG], [truncatedNormalPRNG, truncatedNormalQRNG]];
const facetOutliers = [
  [glorotNormalPRNGOut, glorotNormalQRNGOut], [glorotUniformPRNGOut, glorotUniformQRNGOut],
  [heNormalPRNGOut, heNormalQRNGOut], [heUniformPRNGOut, heUniformQRNGOut],
  [lecunNormalPRNGOut, lecunNormalQRNGOut], [lecunUniformPRNGOut, lecunUniformQRNGOut],
  [orthogonalPRNGOut, orthogonalQRNGOut], [randomNormalPRNGOut, randomNormalQRNGOut],
  [randomUniformPRNGOut, randomUniformQRNGOut], [truncatedNormalPRNGOut, truncatedNormalQRNGOut]];

// layout
const W = 1661, H = 2076;
const colors = d3.scaleOrdinal().domain(seriesNames).range(["#F8766D", "#00BFC4"]);
const panelW = 784, panelH = 341, stripH = 35;
const colX = [69.5, 865];
const firstTop = 45.7, rowPitch = 387.3;
const yDomain = [0.0646, 0.747];
const tickCol = "#B3B3B3", gridCol = "#DEDEDE";
const lw = 1.8;   // box line width, median is twice that

const svg = d3.select("body").append("svg")
  .attr("width", W).attr("height", H)
  .style("display", "block");
svg.append("rect").attr("width", W).attr("height", H).attr("fill", "#fff");

facetNames.forEach(function(name, i) {
  const col = i % 2, row = Math.floor(i / 2);
  const x0 = colX[col], y0 = firstTop + row * rowPitch;

  const x = d3.scaleBand().domain(epochs).range([x0, x0 + panelW]).paddingInner(0).paddingOuter(0.1);
  const half = x.step() * 0.375;
  const dodge = d3.scaleBand().domain(seriesNames).range([-half, half]);
  const y = d3.scaleLinear().domain(yDomain).range([y0 + panelH, y0]);
  const cx = e => x(e) + x.bandwidth() / 2;

  const g = svg.append("g");
  g.append("rect").attr("x", x0).attr("y", y0).attr("width", panelW).attr("height", panelH).attr("fill", "#fff");

  // grid
  g.selectAll("line.minor").data(yMinorTicks).join("line")
    .attr("x1", x0).attr("x2", x0 + panelW)
    .attr("y1", d => y(d)).attr("y2", d => y(d))
    .attr("stroke", gridCol).attr("stroke-width", 0.6);
  g.selectAll("line.major").data(yTicks).join("line")
    .attr("x1", x0).attr("x2", x0 + panelW)
    .attr("y1", d => y(d)).attr("y2", d => y(d))
    .attr("stroke", gridCol).attr("stroke-width", 1.2);
  g.selectAll("line.vgrid").data(epochs).join("line")
    .attr("x1", d => cx(d)).attr("x2", d => cx(d))
    .attr("y1", y0).attr("y2", y0 + panelH)
    .attr("stroke", gridCol).attr("stroke-width", 1.2);

  // boxes
  seriesNames.forEach(function(s, si) {
    const c = colors(s);
    const stats = facetStats[i][si];
    const outs = facetOutliers[i][si];
    const pts = [];
    outs.forEach(o => o.slice(1).forEach(v => pts.push({e: o[0], v: v})));

    const bx = e => cx(e) + dodge(s);
    const bw = dodge.bandwidth();

    g.append("g").selectAll("circle").data(pts).join("circle")
      .attr("cx", d => bx(d.e) + bw / 2).attr("cy", d => y(d.v))
      .attr("r", 1.9).attr("fill", c);

    const boxes = g.append("g").selectAll("g").data(stats).join("g");
    boxes.append("line")
      .attr("x1", (d, k) => bx(epochs[k]) + bw / 2).attr("x2", (d, k) => bx(epochs[k]) + bw / 2)
      .attr("y1", d => y(d[4])).attr("y2", d => y(d[3]))
      .attr("stroke", c).attr("stroke-width", lw);
    boxes.append("line")
      .attr("x1", (d, k) => bx(epochs[k]) + bw / 2).attr("x2", (d, k) => bx(epochs[k]) + bw / 2)
      .attr("y1", d => y(d[1])).attr("y2", d => y(d[0]))
      .attr("stroke", c).attr("stroke-width", lw);
    boxes.append("rect")
      .attr("x", (d, k) => bx(epochs[k])).attr("width", bw)
      .attr("y", d => y(d[3])).attr("height", d => Math.max(0.01, y(d[1]) - y(d[3])))
      .attr("fill", "#fff").attr("stroke", c).attr("stroke-width", lw);
    boxes.append("line")
      .attr("x1", (d, k) => bx(epochs[k])).attr("x2", (d, k) => bx(epochs[k]) + bw)
      .attr("y1", d => y(d[2])).attr("y2", d => y(d[2]))
      .attr("stroke", c).attr("stroke-width", lw * 2);
  });

  // border
  g.append("rect").attr("x", x0).attr("y", y0).attr("width", panelW).attr("height", panelH)
    .attr("fill", "none").attr("stroke", tickCol).attr("stroke-width", 1.2);

  // strip
  g.append("rect").attr("x", x0).attr("y", y0 - stripH).attr("width", panelW).attr("height", stripH)
    .attr("fill", "#B3B3B3");
  g.append("text").attr("x", x0 + panelW / 2).attr("y", y0 - stripH / 2).attr("dy", "0.35em")
    .attr("text-anchor", "middle").attr("fill", "#fff").style("font-size", "15.5px").text(name);

  // axes
  if (col === 0) {
    const ax = g.append("g").attr("transform", `translate(${x0},0)`)
      .call(d3.axisLeft(y).tickValues(yTicks).tickFormat(d3.format(".1f")).tickSize(5.7).tickPadding(4.6));
    ax.select(".domain").remove();
    ax.selectAll(".tick line").attr("stroke", tickCol).attr("stroke-width", 1.2);
    ax.selectAll(".tick text").attr("fill", "#4D4D4D").style("font-size", "15.5px")
      .style("font-family", '"Liberation Sans", Arial, sans-serif');
  }
  if (row === 4) {
    const ax = g.append("g").attr("transform", `translate(0,${y0 + panelH})`)
      .call(d3.axisBottom(x).tickSize(5.7).tickPadding(4.6));
    ax.select(".domain").remove();
    ax.selectAll(".tick line").attr("stroke", tickCol).attr("stroke-width", 1.2);
    ax.selectAll(".tick text").attr("fill", "#4D4D4D").style("font-size", "15.5px")
      .style("font-family", '"Liberation Sans", Arial, sans-serif');
  }
});

// axis titles
svg.append("text").attr("transform", "translate(26,991) rotate(-90)")
  .attr("text-anchor", "middle").style("font-size", "19px").attr("fill", "#000").text("Accuracy");
svg.append("text").attr("x", (colX[0] + colX[1] + panelW) / 2).attr("y", 1983.5)
  .attr("text-anchor", "middle").style("font-size", "19px").attr("fill", "#000").text("Epoch");

// legend
const legY = 2038, keyS = 35;
const leg = svg.append("g");
const title = leg.append("text").attr("x", 0).attr("y", legY).attr("dy", "0.35em")
  .style("font-size", "19px").attr("fill", "#000").text("intializer");
let cursor = title.node().getComputedTextLength() + 11;
seriesNames.forEach(function(s) {
  const kg = leg.append("g").attr("transform", `translate(${cursor},${legY - keyS / 2})`);
  const c = colors(s);
  kg.append("line").attr("x1", keyS / 2).attr("x2", keyS / 2).attr("y1", keyS * 0.1).attr("y2", keyS * 0.25)
    .attr("stroke", c).attr("stroke-width", lw);
  kg.append("line").attr("x1", keyS / 2).attr("x2", keyS / 2).attr("y1", keyS * 0.75).attr("y2", keyS * 0.9)
    .attr("stroke", c).attr("stroke-width", lw);
  kg.append("rect").attr("x", keyS * 0.125).attr("y", keyS * 0.25).attr("width", keyS * 0.75).attr("height", keyS * 0.5)
    .attr("fill", "#fff").attr("stroke", c).attr("stroke-width", lw);
  kg.append("line").attr("x1", keyS * 0.125).attr("x2", keyS * 0.875).attr("y1", keyS / 2).attr("y2", keyS / 2)
    .attr("stroke", c).attr("stroke-width", lw * 2);
  cursor += keyS + 9;
  const t = leg.append("text").attr("x", cursor).attr("y", legY).attr("dy", "0.35em")
    .style("font-size", "15.5px").attr("fill", "#000").text(s);
  cursor += t.node().getComputedTextLength() + 11;
});
const legW = cursor - 11;
leg.attr("transform", `translate(${864 - legW / 2},0)`);
</script>
</body>
</html>
